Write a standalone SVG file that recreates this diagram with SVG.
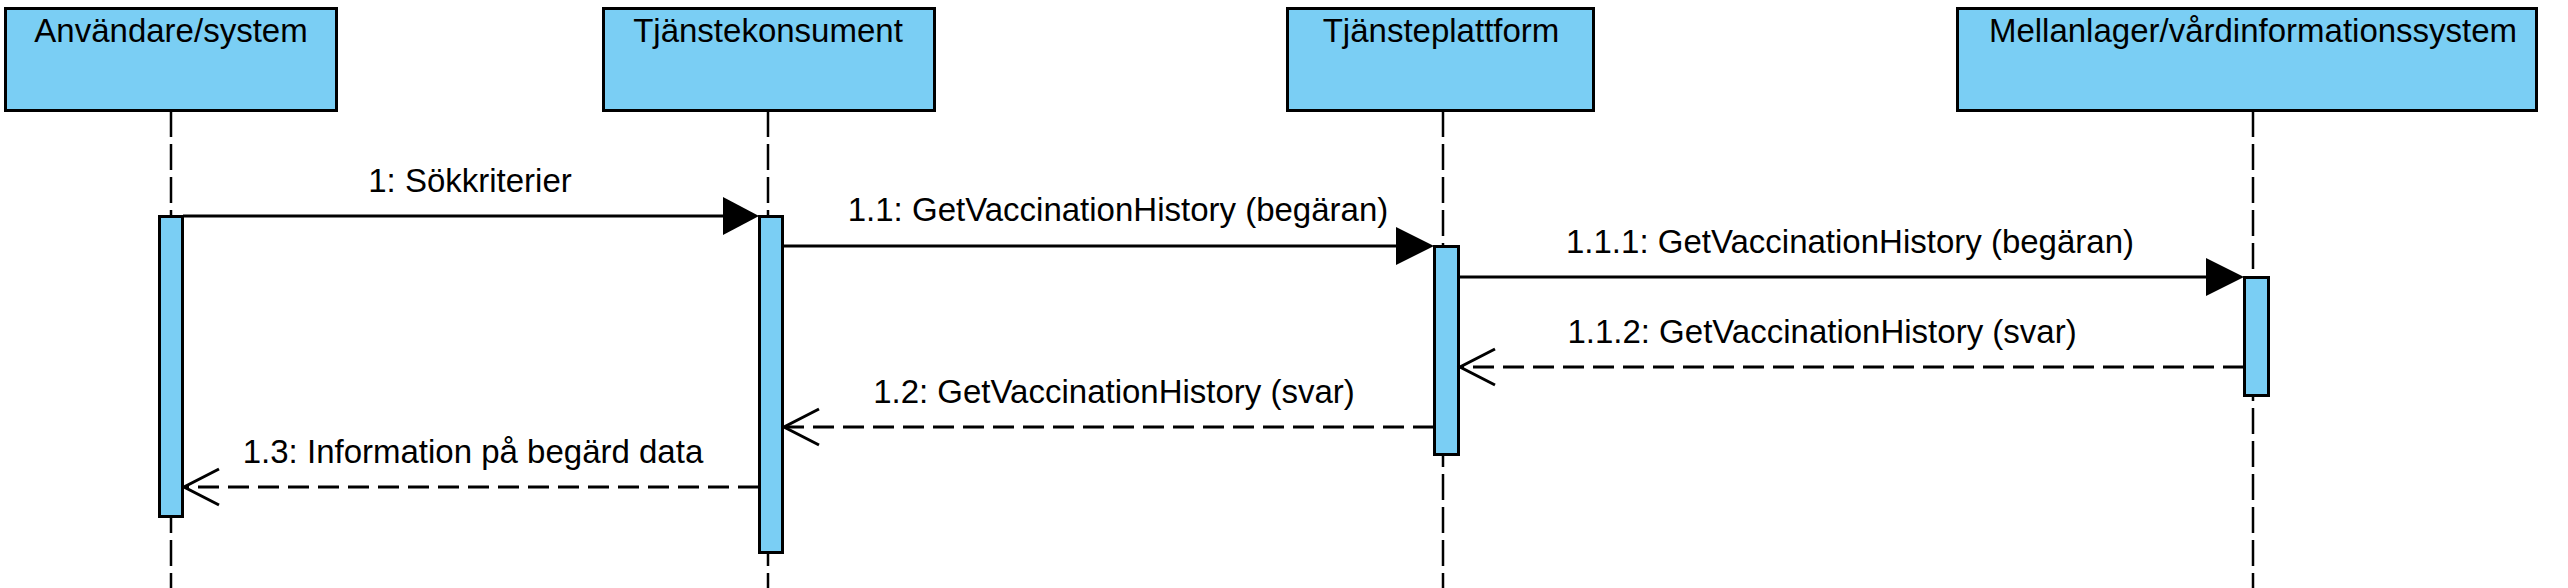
<svg xmlns="http://www.w3.org/2000/svg" width="2568" height="588" viewBox="0 0 2568 588">
<style>
.box{fill:#7ACEF4;stroke:#000;stroke-width:3}
.act{fill:#7ACEF4;stroke:#000;stroke-width:3}
.life{stroke:#000;stroke-width:2.5;stroke-dasharray:26 7;fill:none}
.msg{stroke:#000;stroke-width:3;fill:none}
.ret{stroke:#000;stroke-width:3;fill:none;stroke-dasharray:21 9}
.head{fill:#000;stroke:none}
.open{stroke:#000;stroke-width:3;fill:none}
text{font-family:"Liberation Sans",Arial,sans-serif;font-size:33px;fill:#000;text-anchor:middle}
</style>
<rect width="2568" height="588" fill="#fff"/>
<g id="lifelines">
<line class="life" x1="171" y1="111" x2="171" y2="588"/>
<line class="life" x1="768" y1="111" x2="768" y2="588"/>
<line class="life" x1="1443" y1="111" x2="1443" y2="588"/>
<line class="life" x1="2253" y1="111" x2="2253" y2="588"/>
</g>
<g id="node-user">
<rect class="box" x="5.5" y="8.5" width="331" height="102"/>
<text x="171" y="42">Användare/system</text>
</g>
<g id="node-consumer">
<rect class="box" x="603.5" y="8.5" width="331" height="102"/>
<text x="768" y="42">Tjänstekonsument</text>
</g>
<g id="node-platform">
<rect class="box" x="1287.5" y="8.5" width="306" height="102"/>
<text x="1441" y="42">Tjänsteplattform</text>
</g>
<g id="node-backend">
<rect class="box" x="1957.5" y="8.5" width="579" height="102"/>
<text x="2253" y="42">Mellanlager/vårdinformationssystem</text>
</g>
<g id="activations">
<rect class="act" x="159.5" y="216.5" width="23" height="300"/>
<rect class="act" x="759.5" y="216.5" width="23" height="336"/>
<rect class="act" x="1434.5" y="246.5" width="24" height="208"/>
<rect class="act" x="2244.5" y="277.5" width="24" height="118"/>
</g>
<g id="connectors">
<line class="msg" x1="183" y1="216" x2="730" y2="216"/>
<polygon class="head" points="759,216 723,197 723,235"/>
<text x="470" y="192">1: Sökkriterier</text>
<line class="msg" x1="783" y1="246" x2="1405" y2="246"/>
<polygon class="head" points="1434,246 1396,227 1396,265"/>
<text x="1118" y="221">1.1: GetVaccinationHistory (begäran)</text>
<line class="msg" x1="1459" y1="277" x2="2215" y2="277"/>
<polygon class="head" points="2244,277 2206,258 2206,296"/>
<text x="1850" y="253">1.1.1: GetVaccinationHistory (begäran)</text>
<line class="ret" x1="2244" y1="367" x2="1461" y2="367"/>
<polyline class="open" points="1495,349 1460,367 1495,385"/>
<text x="1822" y="343">1.1.2: GetVaccinationHistory (svar)</text>
<line class="ret" x1="1434" y1="427" x2="786" y2="427"/>
<polyline class="open" points="819,409 784,427 819,445"/>
<text x="1114" y="403">1.2: GetVaccinationHistory (svar)</text>
<line class="ret" x1="759" y1="487" x2="186" y2="487"/>
<polyline class="open" points="219,469 184,487 219,505"/>
<text x="473" y="463">1.3: Information på begärd data</text>
</g>
</svg>
